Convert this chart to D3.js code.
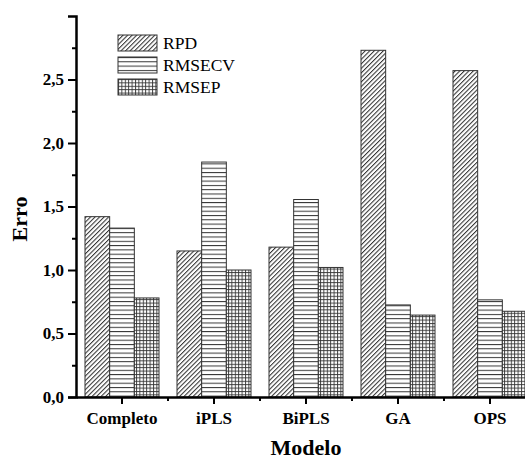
<!DOCTYPE html>
<html>
<head>
    <meta charset="UTF-8">
    <script src="https://d3js.org/d3.v7.min.js"></script>
    <style>
     body { margin: 0; background: #fff; }
     text { font-family: "Liberation Serif", "DejaVu Serif", serif; }
    </style>
</head>
<body>
    <div id="chart"></div>
    <script>
     // Values
     const modelos = ["Completo", "iPLS", "BiPLS", "GA", "OPS"];
     const series = ["RPD", "RMSECV", "RMSEP"];
     const rpd    = [1.42, 1.15, 1.18, 2.73, 2.57];
     const rmsecv = [1.33, 1.85, 1.555, 0.725, 0.765];
     const rmsep  = [0.78, 1.00, 1.02, 0.645, 0.675];
     const yTicks = [0, 0.5, 1.0, 1.5, 2.0, 2.5];
     const yMinor = [0.25, 0.75, 1.25, 1.75, 2.25, 2.75];

     const values = {RPD: rpd, RMSECV: rmsecv, RMSEP: rmsep};
     const fills = {RPD: "url(#diag)", RMSECV: "url(#hlines)", RMSEP: "url(#grid)"};

     const width = 525, height = 459;
     const plot = {left: 76, bottom: 397, top: 16, right: 536};

     let svg = d3.select("#chart").append("svg")
                 .attr("width", width)
                 .attr("height", height);

     // hatch patterns
     let defs = svg.append("defs");
     let p1 = defs.append("pattern").attr("id", "diag")
                  .attr("patternUnits", "userSpaceOnUse")
                  .attr("width", 3.2).attr("height", 3.2)
                  .attr("patternTransform", "rotate(45)");
     p1.append("rect").attr("width", 3.2).attr("height", 3.2).attr("fill", "#fff");
     p1.append("line").attr("x1", 0.5).attr("x2", 0.5).attr("y1", 0).attr("y2", 3.2)
       .attr("stroke", "#333").attr("stroke-width", 1.1);

     let p2 = defs.append("pattern").attr("id", "hlines")
                  .attr("patternUnits", "userSpaceOnUse")
                  .attr("width", 10).attr("height", 4.3);
     p2.append("rect").attr("width", 10).attr("height", 4.3).attr("fill", "#fff");
     p2.append("line").attr("x1", 0).attr("x2", 10).attr("y1", 0.5).attr("y2", 0.5)
       .attr("stroke", "#333").attr("stroke-width", 1);

     let p3 = defs.append("pattern").attr("id", "grid")
                  .attr("patternUnits", "userSpaceOnUse")
                  .attr("width", 3.4).attr("height", 3.4);
     p3.append("rect").attr("width", 3.4).attr("height", 3.4).attr("fill", "#fff");
     p3.append("line").attr("x1", 0.5).attr("x2", 0.5).attr("y1", 0).attr("y2", 3.4)
       .attr("stroke", "#333").attr("stroke-width", 0.9);
     p3.append("line").attr("x1", 0).attr("x2", 3.4).attr("y1", 0.5).attr("y2", 0.5)
       .attr("stroke", "#333").attr("stroke-width", 0.9);

     // scales
     let x0 = d3.scaleBand().domain(modelos).range([plot.left, plot.right])
                .paddingInner(18 / 92).paddingOuter(9 / 92);
     let x1 = d3.scaleBand().domain(series).range([0, x0.bandwidth()]);
     let y = d3.scaleLinear().domain([0, 3]).range([plot.bottom, plot.top]);

     // bars
     let groups = svg.selectAll("g.grp")
                     .data(modelos)
                     .enter()
                     .append("g")
                     .attr("class", "grp")
                     .attr("transform", d => `translate(${x0(d)},0)`);
     groups.selectAll("rect")
           .data((m, i) => series.map(s => ({s: s, v: values[s][i]})))
           .enter()
           .append("rect")
           .attr("x", d => x1(d.s))
           .attr("y", d => y(d.v))
           .attr("width", x1.bandwidth())
           .attr("height", d => y(0) - y(d.v))
           .attr("fill", d => fills[d.s])
           .attr("stroke", "#333")
           .attr("stroke-width", 1);

     // y axis
     svg.append("g")
        .attr("transform", `translate(${plot.left},0)`)
        .call(d3.axisLeft(y).tickValues(yTicks).tickSize(8).tickPadding(4)
                .tickFormat(d => d3.format(".1f")(d).replace(".", ",")));
     svg.append("g")
        .attr("transform", `translate(${plot.left},0)`)
        .call(d3.axisLeft(y).tickValues(yMinor).tickSize(4).tickFormat(""))
        .select(".domain").remove();

     // x axis
     svg.append("g")
        .attr("transform", `translate(0,${plot.bottom})`)
        .call(d3.axisBottom(x0).tickSize(7).tickPadding(8).tickSizeOuter(0));
     let minorX = modelos.slice(1).map(m => x0(m) - x0.step() * x0.paddingInner() / 2);
     svg.append("g")
        .attr("transform", `translate(0,${plot.bottom})`)
        .selectAll("line")
        .data(minorX)
        .enter()
        .append("line")
        .attr("x1", d => d).attr("x2", d => d)
        .attr("y1", 0).attr("y2", 4)
        .attr("stroke", "#000").attr("stroke-width", 2);

     svg.selectAll(".domain").attr("stroke", "#000").attr("stroke-width", 2.5);
     svg.selectAll(".tick line").attr("stroke", "#000").attr("stroke-width", 2);
     svg.selectAll(".tick text")
        .style("font-family", "'Liberation Serif', serif")
        .style("font-weight", "bold")
        .style("font-size", "17px")
        .attr("fill", "#000");

     // axis titles
     svg.append("text")
        .attr("transform", "translate(27,219) rotate(-90)")
        .attr("text-anchor", "middle")
        .style("font-weight", "bold")
        .style("font-size", "22px")
        .text("Erro");
     svg.append("text")
        .attr("x", 306)
        .attr("y", 455)
        .attr("text-anchor", "middle")
        .style("font-weight", "bold")
        .style("font-size", "22px")
        .text("Modelo");

     // legend
     let legend = svg.append("g").attr("transform", "translate(118,35)");
     let item = legend.selectAll("g")
                      .data(series)
                      .enter()
                      .append("g")
                      .attr("transform", (d, i) => `translate(0,${i * 22})`);
     item.append("rect")
         .attr("width", 39).attr("height", 16)
         .attr("fill", d => fills[d])
         .attr("stroke", "#333").attr("stroke-width", 1);
     item.append("text")
         .attr("x", 45).attr("y", 14)
         .style("font-size", "17.5px")
         .text(d => d);
    </script>
</body>
</html>
